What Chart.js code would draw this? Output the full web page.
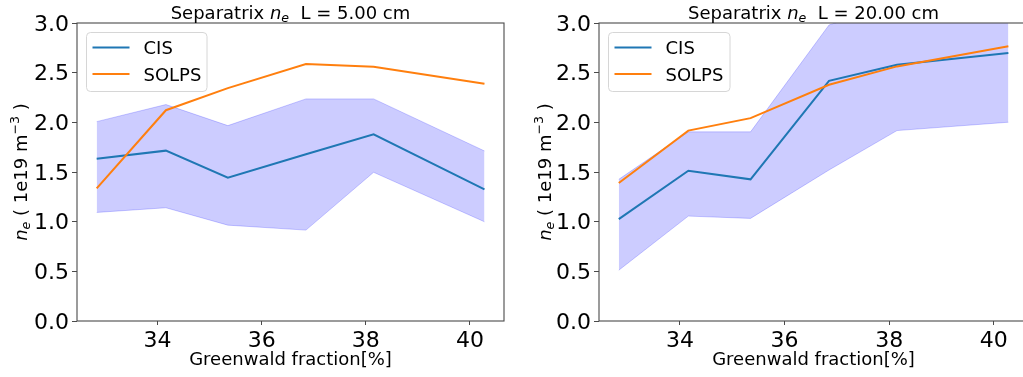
<!DOCTYPE html>
<html>
<head>
<meta charset="utf-8">
<title>Separatrix density</title>
<script src="https://cdn.jsdelivr.net/npm/chart.js@4.4.1/dist/chart.umd.min.js"></script>
<style>
  html, body { margin: 0; padding: 0; background: #fff; overflow: hidden; width: 1023px; height: 377px; }
  .panel { position: absolute; top: 0; height: 377px; }
  #panel-a { left: 0; width: 511px; }
  #panel-b { left: 511px; width: 530px; }
</style>
</head>
<body>
<div class="panel" id="panel-a"><canvas id="chart-a" width="511" height="377"></canvas></div>
<div class="panel" id="panel-b"><canvas id="chart-b" width="530" height="377"></canvas></div>
<script>
// greenwald fraction of each shot (%)
const gwFraction = [32.83, 34.16, 35.35, 36.85, 38.15, 40.28];

// L = 5 cm
const cis5 = [1.634, 1.715, 1.443, 1.678, 1.88, 1.325];
const solps5 = [1.336, 2.122, 2.344, 2.586, 2.559, 2.388];
const cisUpper5 = [2.007, 2.179, 1.967, 2.236, 2.236, 1.712];
const cisLower5 = [1.093, 1.14, 0.965, 0.915, 1.497, 0.999];

// L = 20 cm
const cis20 = [1.026, 1.513, 1.426, 2.418, 2.58, 2.697];
const solps20 = [1.39, 1.917, 2.042, 2.378, 2.563, 2.765];
const cisUpper20 = [1.426, 1.904, 1.904, 2.98, 3.2, 3.3];
const cisLower20 = [0.511, 1.056, 1.033, 1.52, 1.917, 2.001];

const seriesNames = ["CIS", "SOLPS"];
const xTicks = [34, 36, 38, 40];
const yTicks = [0, 0.5, 1, 1.5, 2, 2.5, 3];
const xTitle = "Greenwald fraction[%]";

const FONT = "DejaVu Sans";
const INK = "#000";
const SPINE = "#4a4a4a";
const CIS_COLOR = "#1f77b4";
const SOLPS_COLOR = "#ff7f0e";
const BAND_COLOR = "rgba(0, 0, 255, 0.2)";

function pts(ys) {
  return gwFraction.map((x, i) => ({ x, y: ys[i] }));
}

// text with italic / sub / superscript runs, centred on cx
function drawRich(ctx, parts, cx, baseline, size) {
  const items = parts.map((p) => {
    const s = size * (p.scale || 1);
    const font = `${p.italic ? "italic " : ""}${s}px "${FONT}"`;
    ctx.font = font;
    return { ...p, font, w: ctx.measureText(p.t).width };
  });
  const total = items.reduce((a, p) => a + p.w, 0);
  let x = cx - total / 2;
  ctx.textAlign = "left";
  ctx.textBaseline = "alphabetic";
  ctx.fillStyle = INK;
  items.forEach((p) => {
    ctx.font = p.font;
    ctx.fillText(p.t, x, baseline + (p.dy || 0) * size);
    x += p.w;
  });
}

const decor = {
  id: "decor",
  afterDatasetsDraw(chart, args, opts) {
    const ctx = chart.ctx;
    const a = chart.chartArea;
    ctx.save();

    // axes frame
    ctx.strokeStyle = SPINE;
    ctx.lineWidth = 1.1;
    ctx.strokeRect(a.left, a.top, a.right - a.left, a.bottom - a.top);

    // legend box
    const bx = a.left + 9.5, by = a.top + 9.5, bw = opts.legendWidth, bh = 59;
    ctx.beginPath();
    ctx.roundRect(bx, by, bw, bh, 4);
    ctx.fillStyle = "rgba(255, 255, 255, 0.8)";
    ctx.fill();
    ctx.strokeStyle = "#d6d6d6";
    ctx.lineWidth = 1;
    ctx.stroke();
    [CIS_COLOR, SOLPS_COLOR].forEach((c, i) => {
      const ly = by + 15 + i * 26.6;
      ctx.strokeStyle = c;
      ctx.lineWidth = 2;
      ctx.beginPath();
      ctx.moveTo(bx + 6, ly);
      ctx.lineTo(bx + 43, ly);
      ctx.stroke();
      ctx.fillStyle = INK;
      ctx.font = `18px "${FONT}"`;
      ctx.textAlign = "left";
      ctx.textBaseline = "alphabetic";
      ctx.fillText(seriesNames[i], bx + 57, ly + 6.6);
    });

    // title
    drawRich(ctx, [
      { t: "Separatrix " },
      { t: "n", italic: true },
      { t: "e", italic: true, scale: 0.7, dy: 0.17 },
      { t: "  L = " + opts.length + " cm" },
    ], (a.left + a.right) / 2, 18.5, 18);

    // y label, rotated
    ctx.translate(opts.yLabelX, (a.top + a.bottom) / 2);
    ctx.rotate(-Math.PI / 2);
    drawRich(ctx, [
      { t: "n", italic: true },
      { t: "e", italic: true, scale: 0.7, dy: 0.17 },
      { t: " ( 1e19 m" },
      { t: "\u22123", scale: 0.7, dy: -0.42 },
      { t: " )" },
    ], 0, 0, 18);

    ctx.restore();
  },
};

function makePanel(canvasId, cfg) {
  const tickGrid = (len) => ({ drawOnChartArea: false, drawTicks: true, tickLength: len, color: SPINE, lineWidth: 1 });
  return new Chart(document.getElementById(canvasId), {
    type: "line",
    data: {
      datasets: [
        {
          label: seriesNames[0],
          data: pts(cfg.cis),
          borderColor: CIS_COLOR,
          borderWidth: 2,
          pointRadius: 0,
          fill: false,
          order: 1,
        },
        {
          label: seriesNames[1],
          data: pts(cfg.solps),
          borderColor: SOLPS_COLOR,
          borderWidth: 2,
          pointRadius: 0,
          fill: false,
          order: 0,
        },
        {
          label: "",
          data: pts(cfg.upper),
          borderColor: BAND_COLOR,
          backgroundColor: BAND_COLOR,
          borderWidth: 1,
          pointRadius: 0,
          fill: "+1",
          order: 2,
        },
        {
          label: "",
          data: pts(cfg.lower),
          borderColor: BAND_COLOR,
          borderWidth: 1,
          pointRadius: 0,
          fill: false,
          order: 2,
        },
      ],
    },
    options: {
      responsive: false,
      animation: false,
      events: [],
      layout: { padding: { top: 23, right: cfg.padRight, bottom: 0, left: 0 } },
      plugins: {
        legend: { display: false },
        tooltip: { enabled: false },
        decor: { length: cfg.length, yLabelX: cfg.yLabelX, legendWidth: cfg.legendWidth },
      },
      scales: {
        x: {
          type: "linear",
          min: 32.452,
          max: 40.655,
          afterBuildTicks: (scale) => { scale.ticks = xTicks.map((v) => ({ value: v })); },
          afterFit: (scale) => { scale.height = 56; },
          grid: tickGrid(4),
          border: { display: false },
          ticks: { padding: 5, color: INK, font: { family: FONT, size: 22, lineHeight: 1 }, maxRotation: 0 },
          title: {
            display: true,
            text: xTitle,
            color: INK,
            font: { family: FONT, size: 18, lineHeight: 1 },
            padding: { top: 0, bottom: 8 },
          },
        },
        y: {
          type: "linear",
          min: 0,
          max: 3,
          afterBuildTicks: (scale) => { scale.ticks = yTicks.map((v) => ({ value: v })); },
          afterFit: (scale) => { scale.width = cfg.yAxisWidth; },
          grid: tickGrid(5),
          border: { display: false },
          ticks: {
            padding: 3,
            labelOffset: 2,
            color: INK,
            font: { family: FONT, size: 22, lineHeight: 1 },
            callback: (v) => v.toFixed(1),
          },
        },
      },
    },
    plugins: [decor],
  });
}

makePanel("chart-a", {
  length: "5.00",
  cis: cis5, solps: solps5, upper: cisUpper5, lower: cisLower5,
  yAxisWidth: 77, padRight: 7, yLabelX: 26.5, legendWidth: 120.5,
});

makePanel("chart-b", {
  length: "20.00",
  cis: cis20, solps: solps20, upper: cisUpper20, lower: cisLower20,
  yAxisWidth: 88, padRight: 13, yLabelX: 40, legendWidth: 121.5,
});
</script>
</body>
</html>
